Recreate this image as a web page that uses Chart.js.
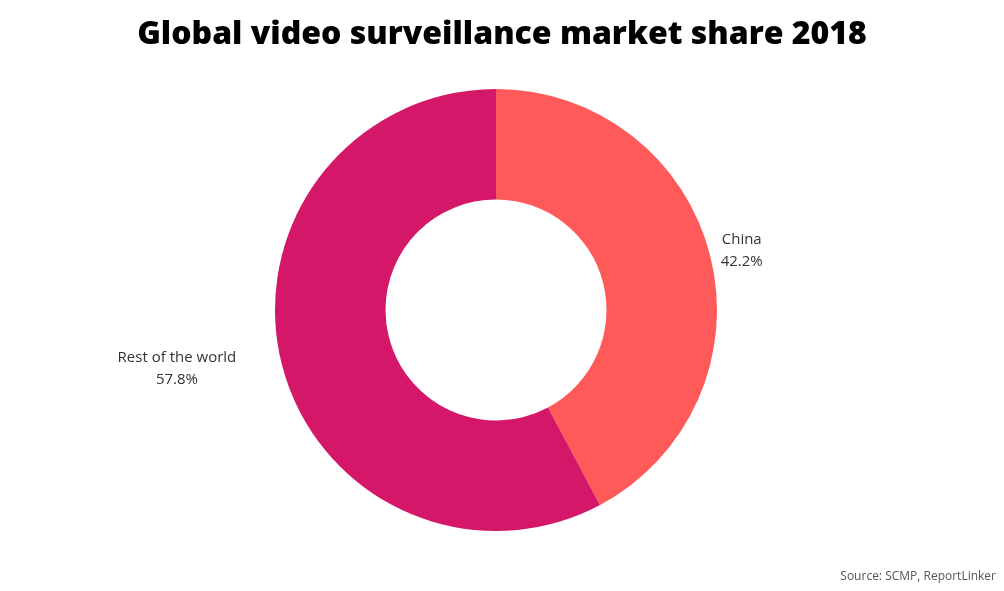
<!DOCTYPE html>
<html>
<head>
<meta charset="utf-8">
<script src="https://cdn.jsdelivr.net/npm/chart.js@4"></script>
<style>
  html, body { margin: 0; padding: 0; background: #fff; }
  #wrap { width: 1004px; height: 591px; position: relative; }
</style>
</head>
<body>
<div id="wrap"><canvas id="pie"></canvas></div>
<script>
const labels = ['China', 'Rest of the world'];
const shares = [42.2, 57.8];
const colors = ['#FF5A5A', '#D5176A'];

// draws title, source line and the outside labels
const extras = {
  id: 'extras',
  afterDraw(chart) {
    const ctx = chart.ctx;
    ctx.save();
    ctx.fillStyle = '#000';
    ctx.font = '800 32px "Open Sans"';
    ctx.textAlign = 'center';
    ctx.textBaseline = 'middle';
    ctx.fillText('Global video surveillance market share 2018', 502, 35);

    ctx.font = '12px "Open Sans"';
    ctx.fillStyle = '#555';
    ctx.textAlign = 'right';
    ctx.fillText('Source: SCMP, ReportLinker', 996, 577);

    const meta = chart.getDatasetMeta(0);
    ctx.font = '15px "Open Sans"';
    ctx.fillStyle = '#333';
    meta.data.forEach((arc, i) => {
      const mid = (arc.startAngle + arc.endAngle) / 2;
      const r = arc.outerRadius + 22;
      const x = arc.x + Math.cos(mid) * r;
      const y = arc.y + Math.sin(mid) * r;
      ctx.textAlign = Math.cos(mid) >= 0 ? 'left' : 'right';
      const tx = Math.cos(mid) >= 0 ? x - 10 : x - 24;
      ctx.fillText(labels[i], tx, y - 11);
      ctx.textAlign = 'center';
      const w = ctx.measureText(labels[i]).width;
      const cx = Math.cos(mid) >= 0 ? tx + w / 2 : tx - w / 2;
      ctx.fillText(shares[i].toFixed(1) + '%', cx, y + 11);
    });
    ctx.restore();
  }
};

new Chart(document.getElementById('pie'), {
  type: 'doughnut',
  data: {
    labels: labels,
    datasets: [{
      data: shares,
      backgroundColor: colors,
      borderWidth: 0
    }]
  },
  options: {
    responsive: true,
    maintainAspectRatio: false,
    animation: false,
    cutout: '50%',
    layout: { padding: { top: 89, bottom: 60, left: 275, right: 287 } },
    plugins: {
      legend: { display: false },
      tooltip: { enabled: false }
    }
  },
  plugins: [extras]
});
</script>
</body>
</html>
